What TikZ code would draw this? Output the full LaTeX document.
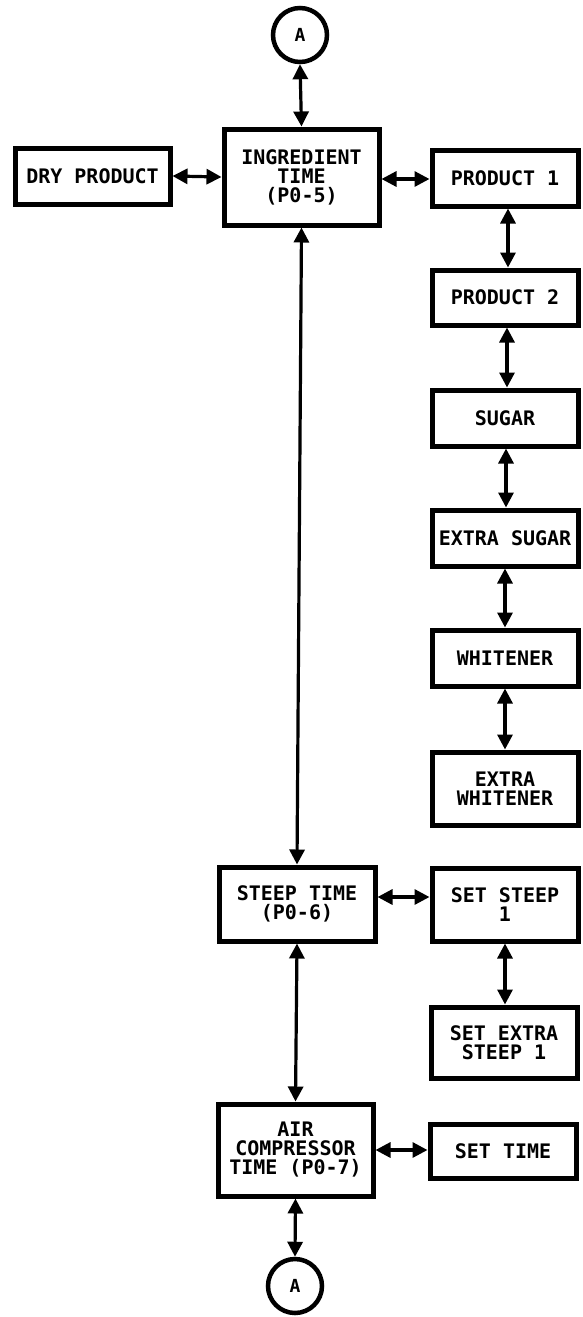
\documentclass[tikz,border=0pt]{standalone}
\usepackage{fontspec}
\newfontfamily\diagfont{DejaVu Sans Mono}
\usetikzlibrary{arrows.meta}
\tikzset{
  box/.style={draw, line width=5pt, rectangle, inner sep=0pt, align=center,
    font=\diagfont\bfseries\fontsize{20}{19}\selectfont},
  conn/.style={draw, circle, line width=4.5pt, minimum size=54pt, inner sep=0pt,
    font=\diagfont\bfseries\fontsize{18}{18}\selectfont},
  link/.style={line width=3.2pt, {Triangle[length=15pt,width=15pt]}-{Triangle[length=15pt,width=15pt]}}
}
\begin{document}
\begin{tikzpicture}[x=1pt,y=-1pt]
\useasboundingbox (0,0) rectangle (582,1317);
% left / centre column
\node[conn] (atop) at (300,35) {A};
\node[box, minimum width=155pt, minimum height=56pt] (dry) at (92.5,176) {DRY PRODUCT};
\node[box, minimum width=155pt, minimum height=96pt] (ing) at (301.5,177) {INGREDIENT\\TIME\\(P0-5)};
\node[box, minimum width=156pt, minimum height=74pt] (steep) at (297,904) {STEEP TIME\\(P0-6)};
\node[box, minimum width=155pt, minimum height=92pt] (air) at (295.5,1150) {AIR\\COMPRESSOR\\TIME (P0-7)};
\node[conn] (abot) at (295,1286) {A};
% right column
\node[box, minimum width=146pt, minimum height=56pt] (p1) at (505,178) {PRODUCT 1};
\node[box, minimum width=146pt, minimum height=55pt] (p2) at (505,297.5) {PRODUCT 2};
\node[box, minimum width=146pt, minimum height=56pt] (sugar) at (505,418) {SUGAR};
\node[box, minimum width=146pt, minimum height=56pt] (xsugar) at (505,538) {EXTRA SUGAR};
\node[box, minimum width=146pt, minimum height=56pt] (whit) at (505,658) {WHITENER};
\node[box, minimum width=146pt, minimum height=73pt] (xwhit) at (505,788.5) {EXTRA\\WHITENER};
\node[box, minimum width=146pt, minimum height=73pt] (setsteep) at (505,904.5) {SET STEEP\\1};
\node[box, minimum width=146pt, minimum height=71pt] (setxsteep) at (504,1042.5) {SET EXTRA\\STEEP 1};
\node[box, minimum width=146pt, minimum height=54pt] (settime) at (503,1151) {SET TIME};
% connectors
\draw[link] (atop.south) -- (ing.north);
\draw[link] (dry.east) -- (ing.west);
\draw[link] ([yshift=-2pt]ing.east) -- ([yshift=-2pt]ing.east -| p1.west);
\draw[link] (ing.south) -- (steep.north);
\draw[link] ([yshift=7pt]steep.east) -- ([yshift=7pt]steep.east -| setsteep.west);
\draw[link] (steep.south) -- (air.north);
\draw[link] (air.east) -- (air.east -| settime.west);
\draw[link] (air.south) -- (abot.north);
\draw[link] ([xshift=3pt]p1.south) -- ([xshift=3pt]p2.north);
\draw[link] ([xshift=2pt]p2.south) -- ([xshift=2pt]sugar.north);
\draw[link] ([xshift=1pt]sugar.south) -- ([xshift=1pt]xsugar.north);
\draw[link] (xsugar.south) -- (whit.north);
\draw[link] (whit.south) -- (xwhit.north);
\draw[link] (setsteep.south) -- (setsteep.south |- setxsteep.north);
\end{tikzpicture}
\end{document}
